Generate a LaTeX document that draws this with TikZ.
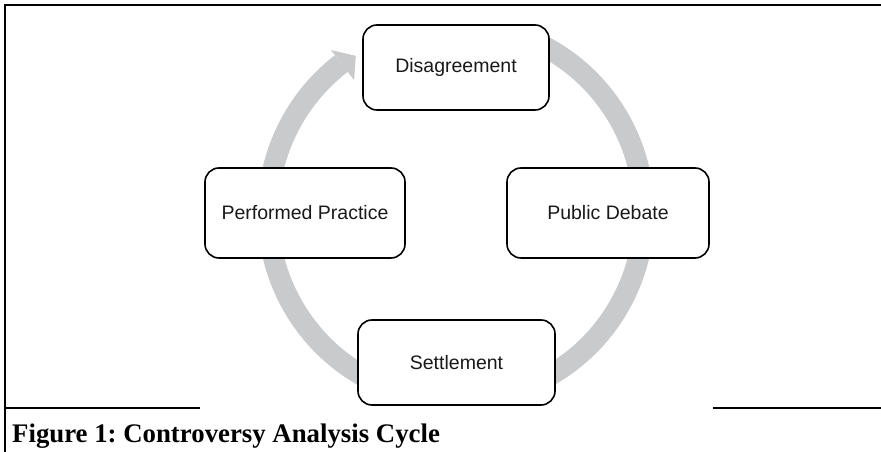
\documentclass[tikz,border=0pt]{standalone}
\usepackage{fontspec}
\setmainfont{Liberation Sans}
\newfontfamily\capfont{Liberation Serif}
\frenchspacing
\definecolor{ringgray}{RGB}{201,202,204}
\tikzset{
  stagebox/.style={draw=black, line width=1.6pt, rounded corners=14pt, fill=white,
    minimum height=85pt, font=\fontsize{19.5}{23}\selectfont, text=black!90},
  framerule/.style={line width=1.3pt}
}
\begin{document}
\begin{tikzpicture}[x=1pt,y=1pt]
  \useasboundingbox (0,0) rectangle (881,452);
  \draw[framerule] (881,447) -- (5,447) -- (5,0);
  \draw[framerule] (5,44) -- (200,44);
  \draw[framerule] (713,44) -- (881,44);

  \begin{scope}
    \clip (5,46) rectangle (881,447);
    \begin{scope}[shift={(456,239.5)}]
      \draw[ringgray, line width=21pt] (66:188) arc[start angle=66, end angle=-232.4, radius=188];
      \fill[ringgray] (127.6:205) -- (122.6:186) -- (127.6:167) -- cycle;
    \end{scope}
  \end{scope}

  \node[stagebox, minimum width=186pt] (disagree) at (456,384.5) {Disagreement};
  \node[stagebox, minimum width=202pt, minimum height=90pt] (debate) at (608,239) {Public Debate};
  \node[stagebox, minimum width=197pt] (settle) at (456.5,89.5) {Settlement};
  \node[stagebox, minimum width=200pt, minimum height=90pt] (practice) at (305,239) {Performed Practice};

  \node[anchor=base west, inner sep=0pt, font=\capfont\bfseries\fontsize{26.8}{30}\selectfont] (caption) at (12,9) {Figure 1: Controversy Analysis Cycle};
\end{tikzpicture}
\end{document}
